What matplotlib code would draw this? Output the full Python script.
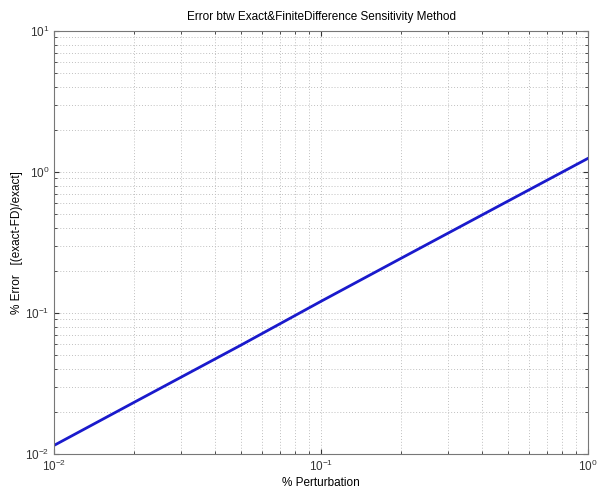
import matplotlib.pyplot as plt

# perturbation (%) vs error (%)
perturbation = [0.01, 0.02, 0.05, 0.1, 0.2, 0.5, 1.0]
error = [0.0115, 0.0233, 0.059, 0.121, 0.245, 0.62, 1.25]

plt.rcParams['font.family'] = ['Liberation Sans', 'DejaVu Sans']

fig = plt.figure(figsize=(5.98, 4.9), dpi=100)
ax = fig.add_axes([0.0903, 0.0735, 0.893, 0.8632])

ax.loglog(perturbation, error, color='#1a1acc', linewidth=2)

ax.set_xlim(1e-2, 1e0)
ax.set_ylim(1e-2, 1e1)

# matlab style dotted grid
ax.grid(True, which='both', linestyle=(0, (1, 2)), color='#c0c0c0', linewidth=0.7)
ax.tick_params(which='both', direction='in', top=True, right=True,
               labelsize=8.5, colors='#333333')
for s in ax.spines.values():
    s.set_color('#777777')

ax.set_title('Error btw Exact&FiniteDifference Sensitivity Method', fontsize=8.5, pad=8)
ax.set_xlabel('% Perturbation', fontsize=8.5, labelpad=2)
ax.set_ylabel('% Error   [(exact-FD)/exact]', fontsize=8.5)
ax.yaxis.set_label_coords(-0.058, 0.5)

fig.savefig('out.png', dpi=100)
